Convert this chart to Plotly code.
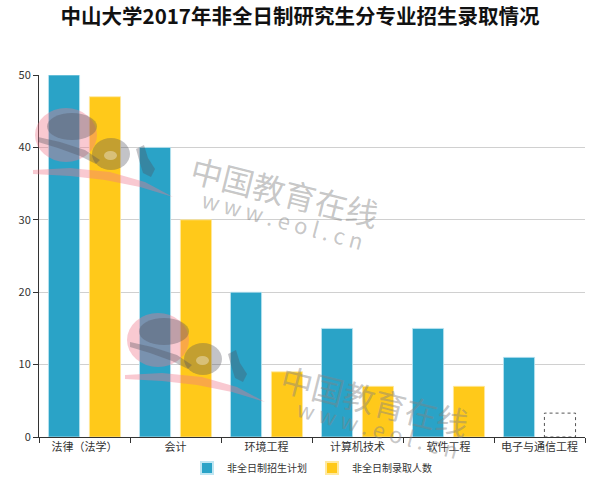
import plotly.graph_objects as go

categories = ["法律（法学）", "会计", "环境工程", "计算机技术", "软件工程", "电子与通信工程"]
plan = [50, 40, 20, 15, 15, 11]
admitted = [47, 30, 9, 7, 7, None]
placeholder_height = 3.3  # dashed empty box for missing admitted value

blue = "#2aa3c7"
yellow = "#ffc91a"
font_family = "Noto Sans CJK SC, Noto Sans, sans-serif"

# body margin is removed by post_script; plot area target (screen): x 39..585, y 75..437
OFF = 0
PL, PR, PT, PB = 39, 585, 75, 437


def px(x):
    return (x - PL) / (PR - PL)


def py(y):
    return (PB - y) / (PB - PT)


fig = go.Figure()
fig.add_trace(go.Bar(name="非全日制招生计划", x=categories, y=plan,
                     marker=dict(color=blue, line=dict(color="#bfe6f2", width=0.8))))
fig.add_trace(go.Bar(name="非全日制录取人数", x=categories, y=admitted,
                     marker=dict(color=yellow, line=dict(color="#ffe9a0", width=0.8))))

bargap = 0.1
bargroupgap = 0.24
# dashed placeholder for the missing value (second bar slot of the last category)
idx = len(categories) - 1
group_w = 1 - bargap
slot = group_w / 2
x0 = idx - group_w / 2 + slot + slot * bargroupgap / 2
x1 = idx + group_w / 2 - slot * bargroupgap / 2
fig.add_shape(type="rect", xref="x", yref="y", x0=x0, x1=x1, y0=0, y1=placeholder_height,
              line=dict(color="#555", width=1, dash="dot"), fillcolor="rgba(0,0,0,0)")

pink = "rgba(240,120,140,0.40)"
gray = "rgba(80,80,90,0.34)"


def path(points, close=True):
    s = "M " + " L ".join(f"{px(x):.4f},{py(y):.4f}" for x, y in points)
    return s + (" Z" if close else "")


def logo(dx, dy):
    # pink ellipse
    fig.add_shape(type="circle", xref="paper", yref="paper", layer="above",
                  x0=px(35 + dx), x1=px(97 + dx), y0=py(162 + dy), y1=py(108 + dy),
                  line=dict(width=0), fillcolor=pink)
    # pink sweep
    fig.add_shape(type="path", xref="paper", yref="paper", layer="above", line=dict(width=0),
                  fillcolor=pink,
                  path=path([(x + dx, y + dy) for x, y in
                             [(33, 170), (70, 168), (110, 172), (145, 182), (173, 197),
                              (140, 187), (105, 180), (70, 176), (33, 174)]]))
    # gray "e" bowl
    fig.add_shape(type="circle", xref="paper", yref="paper", layer="above",
                  x0=px(47 + dx), x1=px(97 + dx), y0=py(140 + dy), y1=py(113 + dy),
                  line=dict(width=0), fillcolor=gray)
    # gray "e" tail
    fig.add_shape(type="path", xref="paper", yref="paper", layer="above", line=dict(width=0),
                  fillcolor=gray,
                  path=path([(x + dx, y + dy) for x, y in
                             [(38, 137), (60, 142), (85, 150), (100, 160), (96, 164),
                              (80, 156), (58, 148), (38, 142)]]))
    # gray "o"
    fig.add_shape(type="circle", xref="paper", yref="paper", layer="above",
                  x0=px(92 + dx), x1=px(130 + dx), y0=py(170 + dy), y1=py(138 + dy),
                  line=dict(width=0), fillcolor=gray)
    fig.add_shape(type="circle", xref="paper", yref="paper", layer="above",
                  x0=px(104 + dx), x1=px(117 + dx), y0=py(160 + dy), y1=py(151 + dy),
                  line=dict(width=0), fillcolor="rgba(255,255,255,0.35)")
    # gray "l"
    fig.add_shape(type="path", xref="paper", yref="paper", layer="above", line=dict(width=0),
                  fillcolor=gray,
                  path=path([(x + dx, y + dy) for x, y in
                             [(136, 149), (144, 145), (148, 158), (155, 169), (151, 177),
                              (143, 173), (139, 160)]]))


logo(0, 0)
logo(92, 205)

# watermark text
for (cx, cy, wx, wy) in [(285, 191, 283, 219), (375, 400, 378, 428)]:
    fig.add_annotation(xref="paper", yref="paper", x=px(cx), y=py(cy), text="中国教育在线",
                       xanchor="center", yanchor="middle",
                       showarrow=False, textangle=14,
                       font=dict(size=32, color="rgba(130,130,130,0.45)", family=font_family))
    fig.add_annotation(xref="paper", yref="paper", x=px(wx), y=py(wy),
                       xanchor="center", yanchor="middle",
                       text="w w w . e o l . c n", showarrow=False, textangle=15,
                       font=dict(size=22, color="rgba(130,130,130,0.45)", family=font_family))

W, H = 600, 486
fig.update_layout(
    width=W, height=H,
    margin=dict(l=PL - OFF, r=W - (PR - OFF), t=PT - OFF, b=H - (PB - OFF), autoexpand=False),
    paper_bgcolor="white", plot_bgcolor="white",
    title=dict(text="<b>中山大学2017年非全日制研究生分专业招生录取情况</b>", x=0.5, xanchor="center",
               y=1 - 17 / H, yanchor="middle",
               font=dict(size=20.5, color="#111", family=font_family)),
    font=dict(family=font_family, size=11, color="#333"),
    barmode="group", bargap=bargap, bargroupgap=bargroupgap,
    showlegend=True,
    legend=dict(orientation="h", x=0.5, xanchor="center", yref="container",
                y=(H - (468 - OFF)) / H, itemwidth=30,
                yanchor="middle", font=dict(size=10, color="#333"), itemsizing="constant"),
    xaxis=dict(showline=True, linecolor="#333", linewidth=1, ticks="outside", ticklen=5,
               tickcolor="#333", tickson="boundaries", showgrid=False, automargin=False,
               tickfont=dict(size=11, color="#333")),
    yaxis=dict(range=[0, 50], dtick=10, showline=True, linecolor="#333", linewidth=1,
               ticks="outside", ticklen=5, tickcolor="#333", showgrid=True, automargin=False,
               gridcolor="#d0d0d0", zeroline=False, tickfont=dict(size=11, color="#333")),
)

fig.write_html("out.html", config={"displayModeBar": False},
               post_script="document.body.style.margin='0';")
